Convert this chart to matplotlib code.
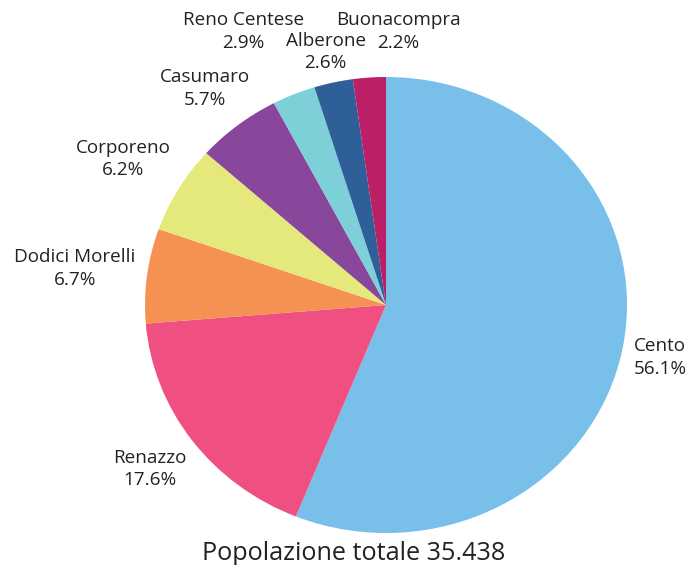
import matplotlib
matplotlib.use("Agg")
import matplotlib.pyplot as plt

plt.rcParams["font.family"] = ["Open Sans", "DejaVu Sans"]

places = ["Cento", "Renazzo", "Dodici Morelli", "Corporeno", "Casumaro",
          "Reno Centese", "Alberone", "Buonacompra"]
shares = [56.1, 17.6, 6.7, 6.2, 5.7, 2.9, 2.6, 2.2]
colors = ["#78bfea", "#ef5081", "#f59152", "#e5e87b", "#89479b",
          "#7dd0d8", "#2f5f98", "#bb1f66"]
total = "35.438"

# label anchors (pie data units), hand-placed like the original
label_pos = [(1.03, -0.23), (-0.98, -0.72), (-1.29, 0.16), (-1.09, 0.64),
             (-0.75, 0.95), (-0.59, 1.20), (-0.25, 1.11), (0.05, 1.20)]
label_ha = ["left", "center", "center", "center", "center", "center", "center", "center"]

fig = plt.figure(figsize=(6.89, 5.65), dpi=100)
ax = fig.add_axes([145 / 689, 32 / 565, 482 / 689, 456 / 565])
ax.pie(shares, colors=colors, startangle=90, counterclock=False, radius=1,
       wedgeprops=dict(linewidth=0))
ax.set_aspect("auto")
ax.set_xlim(-1, 1)
ax.set_ylim(-1, 1)
ax.axis("off")

# name on one line, percentage just under it
for name, val, (lx, ly), ha in zip(places, shares, label_pos, label_ha):
    for txt, dy in ((name, 8), (f"{val:.1f}%", -8)):
        ax.annotate(txt, (lx, ly), xytext=(0, dy), textcoords="offset points",
                    ha=ha, va="center", fontsize=13.6, color="#222222",
                    annotation_clip=False)

fig.text(354 / 689, 1 - 553 / 565, f"Popolazione totale {total}", ha="center",
         va="center", fontsize=18.2, color="#222222")

fig.savefig("out.png", dpi=100)
